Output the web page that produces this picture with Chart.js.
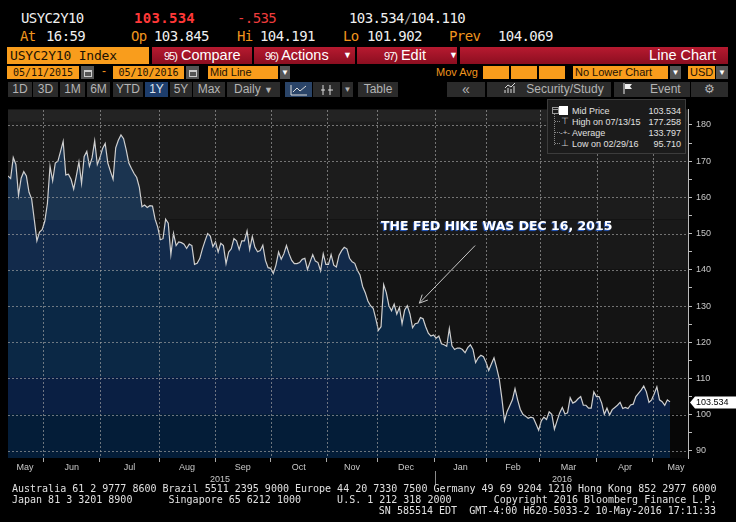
<!DOCTYPE html>
<html>
<head>
<meta charset="UTF-8">
<script src="https://cdn.jsdelivr.net/npm/chart.js"></script>
<title>USYC2Y10 Index</title>
<style>
body { margin: 0; background: #000; }
#wrap { position: relative; width: 736px; height: 522px; overflow: hidden; background: #000; font-family: "Liberation Sans", Arial, sans-serif; }
.a { position: absolute; white-space: pre; }
.bb { font-family: "DejaVu Sans Mono", monospace; font-size: 14px; letter-spacing: -0.6px; line-height: 16px; }
.w { color: #f0f0f0; }
.o { color: #f0951e; }
.r { color: #ff3838; }
.ob { position: absolute; background: #f99d1c; color: #1c1204; overflow: hidden; }
.rb { position: absolute; top: 47px; height: 17px; background: linear-gradient(#b71a30, #8c0e20); color: #fff; font-size: 14.5px; line-height: 17px; }
.rb .n { font-size: 11px; letter-spacing: -1px; }
.dd { position: absolute; background: #555; color: #fff; font-size: 8px; line-height: 13px; text-align: center; }
.cal { position: absolute; top: 66px; width: 13px; height: 13px; background: #555; }
.cal i { position: absolute; left: 3px; top: 4px; width: 6px; height: 4px; border: 1px solid #ccc; border-top-width: 2px; }
.btn { position: absolute; top: 82px; height: 15px; background: #2b2b2b; color: #b4b4b4; font-size: 12px; line-height: 15px; text-align: center; }
#c { position: absolute; left: 0; top: 100px; }
#lg { position: absolute; left: 547px; top: 99px; width: 137px; height: 53px; background: #1b1b1b; border: 1px solid #3c3c3c; font-size: 9px; color: #e0e0e0; line-height: 11px; }
#lg div { position: absolute; white-space: pre; }
.foot { position: absolute; left: 12px; font-family: "DejaVu Sans Mono", monospace; font-size: 10px; line-height: 11px; color: #e0e0e0; white-space: pre; }
</style>
</head>
<body>
<div id="wrap">
    <!-- quote lines -->
    <div class="a bb w" style="left:21px;top:10px">USYC2Y10</div>
    <div class="a bb r" style="left:134px;top:10px;font-weight:bold;letter-spacing:0.3px">103.534</div>
    <div class="a bb" style="left:237px;top:10px;color:#ee3c3c">-.535</div>
    <div class="a bb w" style="left:349px;top:10px">103.534<span style="color:#999;letter-spacing:-2px">/</span>104.110</div>

    <div class="a bb o" style="left:20px;top:28px">At</div>
    <div class="a bb w" style="left:46px;top:28px">16:59</div>
    <div class="a bb o" style="left:131px;top:28px">Op</div>
    <div class="a bb w" style="left:154px;top:28px">103.845</div>
    <div class="a bb o" style="left:237px;top:28px">Hi</div>
    <div class="a bb w" style="left:260px;top:28px">104.191</div>
    <div class="a bb o" style="left:343px;top:28px">Lo</div>
    <div class="a bb w" style="left:367px;top:28px">101.902</div>
    <div class="a bb o" style="left:449px;top:28px">Prev</div>
    <div class="a bb w" style="left:498px;top:28px">104.069</div>

    <!-- menu bar -->
    <div class="ob" style="left:7px;top:47px;width:142px;height:17px;font:13px 'DejaVu Sans Mono';letter-spacing:-0.2px;line-height:17px;padding-left:3px;box-sizing:border-box">USYC2Y10 Index</div>
    <div class="rb" style="left:152px;width:100px;padding-left:12px;box-sizing:border-box"><span class="n">95)</span> Compare</div>
    <div class="rb" style="left:254px;width:101px;padding-left:11px;box-sizing:border-box"><span class="n">96)</span> Actions<span style="position:absolute;left:89px;font-size:9px">▼</span></div>
    <div class="rb" style="left:357px;width:100px;padding-left:27px;box-sizing:border-box"><span class="n">97)</span> Edit<span style="position:absolute;left:92px;font-size:9px">▼</span></div>
    <div class="rb" style="left:460px;width:268px;text-align:right;padding-right:12px;box-sizing:border-box">Line Chart</div>

    <!-- date row -->
    <div class="ob" style="left:7px;top:66px;width:72px;height:13px;font:10px 'DejaVu Sans Mono';line-height:13px;text-align:center">05/11/2015</div>
    <div class="cal" style="left:81px"><i></i></div>
    <div class="a o" style="left:102px;top:64px;font-size:12px">-</div>
    <div class="ob" style="left:113px;top:66px;width:71px;height:13px;font:10px 'DejaVu Sans Mono';line-height:13px;text-align:center">05/10/2016</div>
    <div class="cal" style="left:186px"><i></i></div>
    <div class="ob" style="left:208px;top:66px;width:70px;height:13px;font-size:11px;line-height:13px;padding-left:2px;box-sizing:border-box">Mid Line</div>
    <div class="dd" style="left:280px;top:66px;width:10px;height:13px">▼</div>
    <div class="a o" style="left:436px;top:66px;font-size:11px;line-height:13px">Mov Avg</div>
    <div class="ob" style="left:483px;top:66px;width:26px;height:13px"></div>
    <div class="ob" style="left:511px;top:66px;width:26px;height:13px"></div>
    <div class="ob" style="left:539px;top:66px;width:26px;height:13px"></div>
    <div class="ob" style="left:573px;top:66px;width:95px;height:13px;font-size:11px;line-height:13px;padding-left:2px;box-sizing:border-box">No Lower Chart</div>
    <div class="dd" style="left:670px;top:66px;width:11px;height:13px">▼</div>
    <div class="ob" style="left:688px;top:66px;width:27px;height:13px;font-size:11px;line-height:13px;padding-left:2px;box-sizing:border-box">USD</div>
    <div class="dd" style="left:716px;top:66px;width:12px;height:13px">▼</div>

    <!-- toolbar -->
    <div class="btn" style="left:8px;width:24px">1D</div>
    <div class="btn" style="left:33px;width:25px">3D</div>
    <div class="btn" style="left:60px;width:25px">1M</div>
    <div class="btn" style="left:87px;width:23px">6M</div>
    <div class="btn" style="left:113px;width:30px">YTD</div>
    <div class="btn" style="left:145px;width:23px;background:#1d3d6c;color:#dde4ee">1Y</div>
    <div class="btn" style="left:170px;width:22px">5Y</div>
    <div class="btn" style="left:193px;width:32px">Max</div>
    <div class="btn" style="left:227px;width:53px">Daily <span style="font-size:9px">▼</span></div>
    <div class="btn" style="left:285px;width:27px;background:#2a4468">
        <svg width="18" height="12" style="margin-top:2px"><polyline points="1,1 1,11 17,11" fill="none" stroke="#ddd"/><polyline points="3,8 7,4 10,7 16,2" fill="none" stroke="#ddd"/></svg>
    </div>
    <div class="btn" style="left:313px;width:27px">
        <svg width="14" height="12" style="margin-top:2px"><path d="M3 1V11M1 6H5M10 1V11M8 6H13" stroke="#ddd" fill="none"/></svg>
    </div>
    <div class="btn" style="left:342px;width:11px;font-size:8px">▼</div>
    <div class="btn" style="left:358px;width:40px">Table</div>
    <div class="btn" style="left:447px;width:38px;font-size:14px">«</div>
    <div class="btn" style="left:487px;width:124px;padding-left:10px;box-sizing:border-box">
        <svg width="12" height="11" style="vertical-align:-1px"><path d="M1 10V7M4 10V5M7 10V6M10 10V3M1 5L4 2L7 4L11 0" stroke="#ddd" fill="none"/></svg>&nbsp;&nbsp;&nbsp;Security/Study</div>
    <div class="btn" style="left:614px;width:76px">
        <svg width="10" height="11" style="vertical-align:-1px"><path d="M1 0V11" stroke="#eee"/><path d="M2 1H9L7 3.5L9 6H2Z" fill="#eee"/></svg>&nbsp;&nbsp;&nbsp;&nbsp;&nbsp;Event</div>
    <div class="btn" style="left:691px;width:37px;font-size:12px">⚙</div>

    <canvas id="c" width="736" height="388"></canvas>

    <!-- legend box -->
    <div id="lg">
        <div style="left:4px;top:7px;width:5px;height:5px;border:1px solid #999"></div>
        <div style="left:5px;top:9px;width:5px;height:1px;background:#999"></div>
        <div style="left:11px;top:6px;width:9px;height:9px;background:#fff"></div>
        <div style="left:6px;top:14px;height:31px;border-left:1px dotted #888"></div>
        <div style="left:7px;top:21px;width:5px;border-top:1px dotted #888"></div>
        <div style="left:7px;top:32px;width:5px;border-top:1px dotted #888"></div>
        <div style="left:7px;top:43px;width:5px;border-top:1px dotted #888"></div>
        <div style="left:13px;top:16px;font-size:9px;color:#ccc">⊤</div>
        <div style="left:12px;top:27px;font-size:8px;color:#ccc">-+-</div>
        <div style="left:13px;top:38px;font-size:9px;color:#ccc">⊥</div>
        <div style="left:24px;top:6px">Mid Price</div>
        <div style="left:24px;top:17px">High on 07/13/15</div>
        <div style="left:24px;top:28px">Average</div>
        <div style="left:24px;top:39px">Low on 02/29/16</div>
        <div style="right:4px;top:6px">103.534</div>
        <div style="right:4px;top:17px">177.258</div>
        <div style="right:4px;top:28px">133.797</div>
        <div style="right:4px;top:39px">95.710</div>
    </div>

    <div class="foot" style="top:483px">Australia 61 2 9777 8600 Brazil 5511 2395 9000 Europe 44 20 7330 7500 Germany 49 69 9204 1210 Hong Kong 852 2977 6000</div>
    <div class="foot" style="top:494px">Japan 81 3 3201 8900      Singapore 65 6212 1000      U.S. 1 212 318 2000       Copyright 2016 Bloomberg Finance L.P.</div>
    <div class="foot" style="top:505px;left:auto;right:20px">SN 585514 EDT  GMT-4:00 H620-5033-2 10-May-2016 17:11:33</div>
</div>

<script>
// daily mid price, 05/11/2015 .. 05/10/2016 (one value per trading day)
const midPrice = [
    165.9, 165.2, 171.0, 169.1, 160.6, 165.3, 167.1, 165.9, 161.4, 159.6,
    153.9, 148.0, 150.4, 151.1, 153.4, 158.3, 168.6, 164.6, 169.5, 170.0,
    172.7, 175.5, 166.2, 166.4, 165.0, 162.3, 165.9, 169.8, 163.9, 171.3,
    172.7, 168.6, 170.9, 175.6, 169.1, 171.0, 173.5, 174.9, 169.5, 167.2,
    165.0, 173.7, 175.8, 177.258, 176.2, 173.1, 169.5, 168.0, 166.6, 165.5,
    162.8, 157.4, 157.9, 157.2, 157.7, 157.6, 154.0, 151.8, 148.3, 148.6,
    154.0, 152.9, 144.2, 150.1, 146.7, 147.7, 147.5, 147.1, 145.9, 147.1,
    146.7, 141.5, 141.8, 143.1, 145.8, 148.0, 150.0, 149.3, 146.4, 147.7,
    144.9, 147.3, 146.7, 141.7, 144.9, 145.8, 148.6, 148.0, 145.6, 148.0,
    148.0, 150.7, 145.6, 149.2, 146.2, 145.0, 145.3, 146.8, 142.6, 140.6,
    140.4, 139.0, 141.3, 144.9, 142.9, 144.4, 146.7, 144.4, 142.6, 141.7,
    141.7, 142.0, 142.9, 143.2, 140.1, 142.2, 144.2, 142.4, 142.0, 139.7,
    144.4, 141.5, 141.5, 144.2, 141.3, 140.8, 144.0, 145.3, 146.2, 145.8,
    143.2, 142.2, 141.8, 139.9, 138.6, 135.4, 133.7, 131.4, 130.1, 129.4,
    126.5, 123.3, 124.3, 135.9, 133.7, 130.1, 128.7, 130.5, 127.8, 129.6,
    125.1, 128.9, 130.1, 127.8, 124.0, 125.1, 125.3, 126.8, 126.5, 124.3,
    122.5, 121.7, 122.0, 121.1, 121.7, 119.6, 119.3, 118.9, 123.8, 119.0,
    118.0, 118.4, 118.4, 118.0, 117.1, 118.5, 119.3, 118.0, 114.4, 115.7,
    116.4, 116.0, 114.4, 112.2, 114.0, 115.7, 113.0, 109.9, 104.5, 98.3,
    100.9, 102.5, 104.1, 107.2, 104.1, 101.5, 100.1, 99.6, 99.0, 99.3,
    99.1, 97.4, 95.71, 98.3, 99.3, 98.7, 100.8, 100.1, 96.0, 98.3,
    100.5, 102.0, 100.2, 100.5, 104.7, 103.2, 103.6, 104.4, 105.0, 102.6,
    102.6, 101.8, 101.8, 106.3, 105.0, 105.0, 103.2, 100.1, 101.8, 99.9,
    101.4, 102.0, 102.6, 103.4, 101.7, 102.0, 101.7, 102.7, 102.9, 105.0,
    105.9, 106.8, 107.9, 106.3, 103.4, 104.1, 105.8, 107.7, 104.1, 103.6,
    102.6, 104.1, 103.534
];

// month boundaries in trading-day index, month names, years
const monthBounds = [13.5, 35, 57.5, 78.8, 100, 121.4, 140.5, 162.5, 182, 202.5, 224.2, 245.5];
const monthLabels = ['May', 'Jun', 'Jul', 'Aug', 'Sep', 'Oct', 'Nov', 'Dec', 'Jan', 'Feb', 'Mar', 'Apr', 'May'];
const yearLabels = ['2015', '2016'];
const yearPos = [80.7, 210.9];
const yTicks = [90, 95, 100, 105, 110, 115, 120, 125, 130, 135, 140, 145, 150, 155, 160, 165, 170, 175, 180];

const annotation = { text: 'THE FED HIKE WAS DEC 16, 2015', at: [142, 151.8], from: [177.8, 146.7], to: [156.6, 130.8] };

// shading bands (fractions of plot height)
const bgBands = [[0, .036, '#232323'], [.036, .316, '#1c1c1c'], [.316, .46, '#191919'], [.46, .67, '#141414'], [.67, .874, '#0c0c0c'], [.874, 1, '#070707']];
const fillBands = [[0, .316, '#1b3450'], [.316, .46, '#122a4b'], [.46, .767, '#0b2845'], [.767, .874, '#0a1f43'], [.874, 1, '#041d38']];

const X_MAX = 258.85;
const edges = [-0.5, ...monthBounds, 263];
const labelPos = monthLabels.map((m, i) => (edges[i] + edges[i + 1]) / 2);

const gridColor = 'rgba(165,165,165,0.65)';
const labelFont = { family: 'Liberation Sans', size: 9 };

function fillGradient(context) {
    const chart = context.chart;
    const a = chart.chartArea;
    if (!a) return 'rgba(0,0,0,0)';
    const g = chart.ctx.createLinearGradient(0, a.top, 0, a.bottom);
    fillBands.forEach(([f0, f1, c]) => { g.addColorStop(f0, c); g.addColorStop(f1, c); });
    return g;
}

// dotted grid (2px dash every 4px) at the scales' tick positions
function dottedGrid(chart) {
    const { ctx, chartArea: a } = chart;
    const xs = chart.scales.x, ys = chart.scales.y;
    ctx.save();
    ctx.fillStyle = gridColor;
    monthBounds.forEach(v => {
        const px = Math.round(xs.getPixelForValue(v));
        for (let y = Math.ceil(a.top); y < a.bottom; y += 4) ctx.fillRect(px, y, 1, 2);
    });
    yTicks.filter(v => v % 10 === 0).forEach(v => {
        const py = Math.round(ys.getPixelForValue(v));
        for (let x = Math.ceil(a.left); x < a.right; x += 4) ctx.fillRect(x, py, 2, 1);
    });
    ctx.restore();
}

const decor = {
    id: 'decor',
    beforeDraw(chart) {
        const { ctx, chartArea: a } = chart;
        const h = a.bottom - a.top;
        ctx.save();
        bgBands.forEach(([f0, f1, c]) => {
            ctx.fillStyle = c;
            ctx.fillRect(a.left, a.top + f0 * h, a.right - a.left, (f1 - f0) * h);
        });
        ctx.restore();
    },
    afterDatasetsDraw(chart) {
        dottedGrid(chart);
    },
    afterDraw(chart) {
        const { ctx } = chart;
        const xs = chart.scales.x, ys = chart.scales.y;
        ctx.save();

        // arrow
        const x1 = xs.getPixelForValue(annotation.from[0]), y1 = ys.getPixelForValue(annotation.from[1]);
        const x2 = xs.getPixelForValue(annotation.to[0]), y2 = ys.getPixelForValue(annotation.to[1]);
        ctx.strokeStyle = '#c8c8c8';
        ctx.lineWidth = 1;
        ctx.beginPath();
        ctx.moveTo(x1, y1);
        ctx.lineTo(x2, y2);
        const ang = Math.atan2(y2 - y1, x2 - x1);
        [0.45, -0.45].forEach(d => {
            ctx.moveTo(x2, y2);
            ctx.lineTo(x2 - 9 * Math.cos(ang + d), y2 - 9 * Math.sin(ang + d));
        });
        ctx.stroke();

        // annotation text
        ctx.font = 'bold 12.5px "DejaVu Sans"';
        ctx.textBaseline = 'middle';
        ctx.shadowColor = '#2a62d0';
        ctx.shadowOffsetX = -1;
        ctx.shadowOffsetY = 1;
        ctx.shadowBlur = 1;
        ctx.fillStyle = '#ffffff';
        ctx.fillText(annotation.text, xs.getPixelForValue(annotation.at[0]), ys.getPixelForValue(annotation.at[1]));
        ctx.shadowColor = 'transparent';

        // last value tag
        const last = midPrice[midPrice.length - 1];
        const ty = Math.round(ys.getPixelForValue(last)) + 0.5;
        const tx = chart.chartArea.right + 2;
        ctx.fillStyle = '#ffffff';
        ctx.beginPath();
        ctx.moveTo(tx, ty);
        ctx.lineTo(tx + 5, ty - 6);
        ctx.lineTo(736, ty - 6);
        ctx.lineTo(736, ty + 6);
        ctx.lineTo(tx + 5, ty + 6);
        ctx.closePath();
        ctx.fill();
        ctx.fillStyle = '#000';
        ctx.font = '9px "Liberation Sans"';
        ctx.fillText(last.toFixed(3), tx + 6, ty + 0.5);

        // year separator
        const sx = Math.round(xs.getPixelForValue(monthBounds[7]));
        ctx.fillStyle = '#8a8a8a';
        ctx.fillRect(sx, chart.chartArea.bottom + 13, 1, 14);
        ctx.restore();
    }
};

new Chart(document.getElementById('c'), {
    type: 'line',
    data: {
        datasets: [{
            label: 'Mid Price',
            data: midPrice.map((v, i) => ({ x: i, y: v })),
            borderColor: '#cfcfcf',
            borderWidth: 1.2,
            backgroundColor: fillGradient,
            fill: 'start',
            pointRadius: 0,
            tension: 0
        }]
    },
    options: {
        responsive: false,
        animation: false,
        devicePixelRatio: 1,
        layout: { padding: { left: 8, top: 0, right: 0, bottom: 0 } },
        plugins: { legend: { display: false }, tooltip: { enabled: false } },
        scales: {
            x: {
                type: 'linear', position: 'bottom', min: 0, max: X_MAX, bounds: 'data', weight: 0,
                afterBuildTicks: s => { s.ticks = monthBounds.map(v => ({ value: v })); },
                ticks: { display: false },
                grid: { drawOnChartArea: false, tickColor: '#aaa', tickLength: 4 },
                border: { display: false },
                afterFit: s => { s.height = 4; }
            },
            xl: {
                type: 'linear', position: 'bottom', min: 0, max: X_MAX, bounds: 'data', weight: 1,
                afterBuildTicks: s => { s.ticks = labelPos.map(v => ({ value: v })); },
                ticks: { autoSkip: false, maxRotation: 0, padding: 0, color: '#c8c8c8', font: labelFont, callback: (v, i) => monthLabels[i] },
                grid: { display: false, drawTicks: false },
                border: { display: false },
                afterFit: s => { s.height = 12; }
            },
            xy: {
                type: 'linear', position: 'bottom', min: 0, max: X_MAX, bounds: 'data', weight: 2,
                afterBuildTicks: s => { s.ticks = yearPos.map(v => ({ value: v })); },
                ticks: { autoSkip: false, maxRotation: 0, padding: 0, color: '#c8c8c8', font: labelFont, callback: (v, i) => yearLabels[i] },
                grid: { display: false, drawTicks: false },
                border: { display: false },
                afterFit: s => { s.height = 14; }
            },
            y: {
                type: 'linear', position: 'right', min: 88.04, max: 184.3, bounds: 'data',
                afterBuildTicks: s => { s.ticks = yTicks.map(v => ({ value: v })); },
                ticks: { autoSkip: false, padding: 4, color: '#c8c8c8', font: labelFont, callback: v => (v % 10 === 0 ? String(v) : '') },
                grid: { drawOnChartArea: false, tickColor: '#bbb', tickLength: 4 },
                border: { display: true, color: '#bbbbbb' },
                afterFit: s => { s.width = 48; }
            }
        }
    },
    plugins: [decor]
});
</script>
</body>
</html>
